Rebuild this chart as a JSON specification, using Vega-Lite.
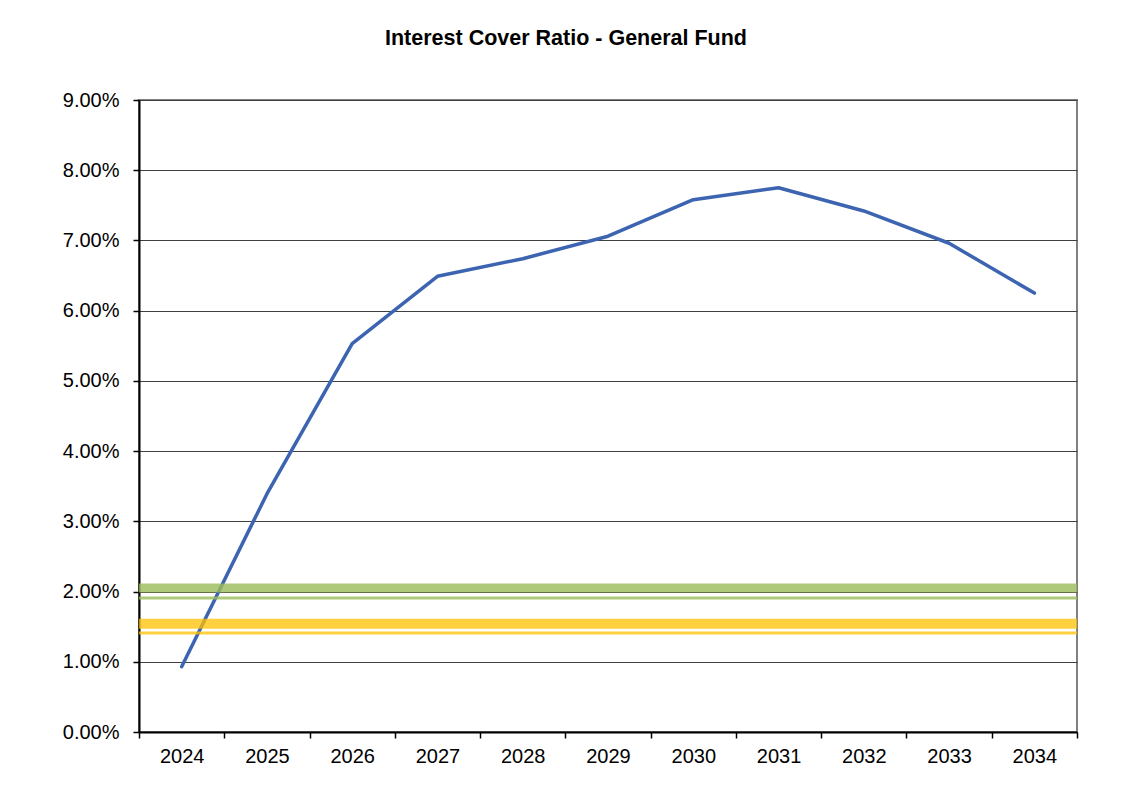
{
  "$schema": "https://vega.github.io/schema/vega-lite/v6.json",
  "width": 938,
  "height": 632,
  "autosize": {"type": "none"},
  "padding": {"left": 139, "top": 100, "right": 47, "bottom": 69},
  "background": "white",
  "title": {
    "text": "Interest Cover Ratio - General Fund",
    "font": "Liberation Sans",
    "fontSize": 21.5,
    "fontWeight": "bold",
    "color": "black",
    "anchor": "middle",
    "offset": 41,
    "dx": -42
  },
  "config": {
    "view": {"stroke": "#808080", "strokeWidth": 2},
    "axis": {
      "labelFont": "Liberation Sans",
      "labelFontSize": 20,
      "labelColor": "black",
      "domainColor": "black",
      "domainWidth": 2,
      "tickColor": "black",
      "tickWidth": 1.5,
      "tickSize": 6,
      "title": null
    }
  },
  "datasets": {
    "icr": [
      {"year": "2024", "ratio": 0.0093},
      {"year": "2025", "ratio": 0.0339},
      {"year": "2026", "ratio": 0.0553},
      {"year": "2027", "ratio": 0.0649},
      {"year": "2028", "ratio": 0.0674},
      {"year": "2029", "ratio": 0.0706},
      {"year": "2030", "ratio": 0.0758},
      {"year": "2031", "ratio": 0.0775},
      {"year": "2032", "ratio": 0.0742},
      {"year": "2033", "ratio": 0.0696},
      {"year": "2034", "ratio": 0.0625}
    ],
    "greenThick": [{"v": 0.0205}],
    "greenThin": [{"v": 0.0191}],
    "yellowThick": [{"v": 0.0154}],
    "yellowThin": [{"v": 0.0141}]
  },
  "layer": [
    {
      "data": {"name": "icr"},
      "mark": {"type": "line", "color": "#3C64B0", "strokeWidth": 3.5, "strokeCap": "round", "strokeJoin": "round"},
      "encoding": {
        "x": {
          "field": "year",
          "type": "ordinal",
          "bandPosition": 0.5,
          "scale": {"type": "band", "paddingInner": 0, "paddingOuter": 0},
          "axis": {
            "labelAngle": 0,
            "labelPadding": 8,
            "grid": false,
            "tickBand": "extent"
          }
        },
        "y": {
          "field": "ratio",
          "type": "quantitative",
          "scale": {"domain": [0, 0.09], "nice": false},
          "axis": {
            "format": ".2%",
            "values": [0, 0.01, 0.02, 0.03, 0.04, 0.05, 0.06, 0.07, 0.08, 0.09],
            "labelPadding": 14,
            "grid": true,
            "gridColor": "#404040",
            "gridWidth": 1
          }
        }
      }
    },
    {
      "data": {"name": "greenThick"},
      "mark": {"type": "rule", "color": "#9BBB59", "strokeWidth": 9, "opacity": 0.8},
      "encoding": {"y": {"field": "v", "type": "quantitative"}}
    },
    {
      "data": {"name": "greenThin"},
      "mark": {"type": "rule", "color": "#9BBB59", "strokeWidth": 3, "opacity": 0.8},
      "encoding": {"y": {"field": "v", "type": "quantitative"}}
    },
    {
      "data": {"name": "yellowThick"},
      "mark": {"type": "rule", "color": "#FFC000", "strokeWidth": 10, "opacity": 0.75},
      "encoding": {"y": {"field": "v", "type": "quantitative"}}
    },
    {
      "data": {"name": "yellowThin"},
      "mark": {"type": "rule", "color": "#FFC000", "strokeWidth": 3, "opacity": 0.75},
      "encoding": {"y": {"field": "v", "type": "quantitative"}}
    }
  ]
}
